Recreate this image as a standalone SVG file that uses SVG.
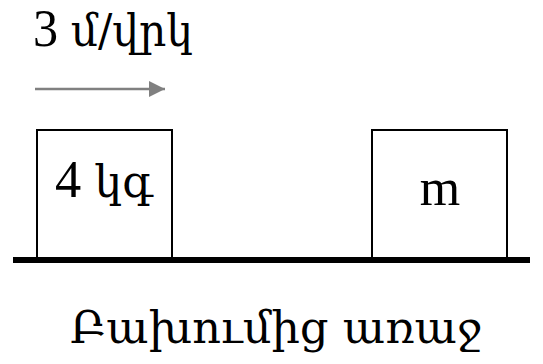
<svg xmlns="http://www.w3.org/2000/svg" width="543" height="364" viewBox="0 0 543 364">
<defs>
<style>
.t{fill:#000}
.l{font-family:"Liberation Serif","Times New Roman",serif}
.a{font-family:"DejaVu Serif",serif}
.box{fill:#fff;stroke:#000;stroke-width:2}
</style>
<marker id="ah" markerWidth="16" markerHeight="16" refX="16" refY="8" orient="auto" markerUnits="userSpaceOnUse">
<path d="M0,0 L16,8 L0,16 z" fill="#808080"/>
</marker>
</defs>
<rect width="543" height="364" fill="#fff"/>
<text class="t" x="33" y="46" textLength="160" lengthAdjust="spacingAndGlyphs"><tspan class="l" font-size="52">3 </tspan><tspan class="a" font-size="44">մ/վրկ</tspan></text>
<g id="connectors">
<line x1="35" y1="89" x2="165" y2="89" stroke="#808080" stroke-width="2.5" marker-end="url(#ah)"/>
</g>
<g id="block1">
<rect class="box" x="37" y="130" width="135" height="128"/>
<text class="t" x="55" y="197" textLength="98" lengthAdjust="spacingAndGlyphs"><tspan class="l" font-size="52">4 </tspan><tspan class="a" font-size="44">կգ</tspan></text>
</g>
<g id="block2">
<rect class="box" x="372" y="130" width="135" height="128"/>
<text class="t l" x="440" y="205" font-size="52" text-anchor="middle">m</text>
</g>
<g id="ground">
<line x1="13" y1="260" x2="530" y2="260" stroke="#000" stroke-width="6"/>
</g>
<text class="t a" x="70" y="343" font-size="44" textLength="412" lengthAdjust="spacingAndGlyphs">Բախումից առաջ</text>
</svg>
